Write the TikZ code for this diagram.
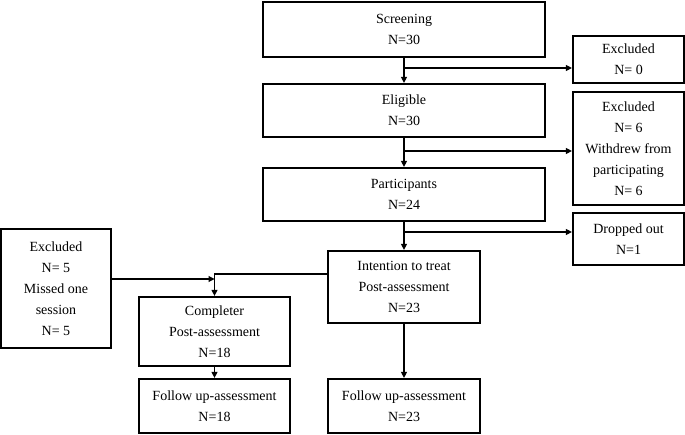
\documentclass[tikz,border=0pt]{standalone}
\usepackage{fontspec}
\setmainfont{Liberation Serif}
\usetikzlibrary{arrows.meta}
\begin{document}
\begin{tikzpicture}[x=1pt,y=-1pt,
  box/.style={draw,line width=2.2pt,inner sep=0pt,align=center,font=\fontsize{14}{21}\selectfont},
  conn/.style={line width=1.1pt,-{Triangle[length=6pt,width=6pt]}},
  plain/.style={line width=1.1pt}]
\useasboundingbox (0,0) rectangle (685,435);
\node[box,minimum width=282pt,minimum height=55pt] (scr) at (404,29.5) {Screening\\N=30};
\node[box,minimum width=282pt,minimum height=53pt] (eli) at (404,110.5) {Eligible\\N=30};
\node[box,minimum width=282pt,minimum height=53pt] (par) at (404,194.5) {Participants\\N=24};
\node[box,minimum width=111pt,minimum height=47pt] (ex0) at (628.5,59.5) {Excluded\\N= 0};
\node[box,minimum width=111pt,minimum height=113pt] (ex6) at (628.5,148.5) {Excluded\\N= 6\\Withdrew from\\participating\\N= 6};
\node[box,minimum width=111pt,minimum height=52pt] (drop) at (628.5,239) {Dropped out\\N=1};
\node[box,minimum width=152pt,minimum height=72pt] (itt) at (404,287) {Intention to treat\\Post-assessment\\N=23};
\node[box,minimum width=110pt,minimum height=119pt] (ex5) at (56,288.5) {Excluded\\N= 5\\Missed one\\session\\N= 5};
\node[box,minimum width=151pt,minimum height=69pt] (comp) at (214.5,331.5) {Completer\\Post-assessment\\N=18};
\node[box,minimum width=151pt,minimum height=54pt] (ful) at (214.5,406) {Follow up-assessment\\N=18};
\node[box,minimum width=152pt,minimum height=54pt] (fur) at (404,406) {Follow up-assessment\\N=23};
\coordinate (b1) at (404,68);
\coordinate (b2) at (404,151);
\coordinate (b3) at (404,232);
\coordinate (b4) at (328,274);
\coordinate (b5) at (111,279);
\coordinate (b6) at (214.5,279);
\draw[conn] (scr.south) -- (eli.north);
\draw[conn] (eli.south) -- (par.north);
\draw[conn] (par.south) -- (itt.north);
\draw[conn] (b1) -- (b1 -| ex0.west);
\draw[conn] (b2) -- (b2 -| ex6.west);
\draw[conn] (b3) -- (b3 -| drop.west);
\draw[conn] (b4) -| (comp.north);
\draw[conn] (b5) -- (b6);
\draw[conn] (comp.south) -- (ful.north);
\draw[conn] (itt.south) -- (fur.north);
\end{tikzpicture}
\end{document}
